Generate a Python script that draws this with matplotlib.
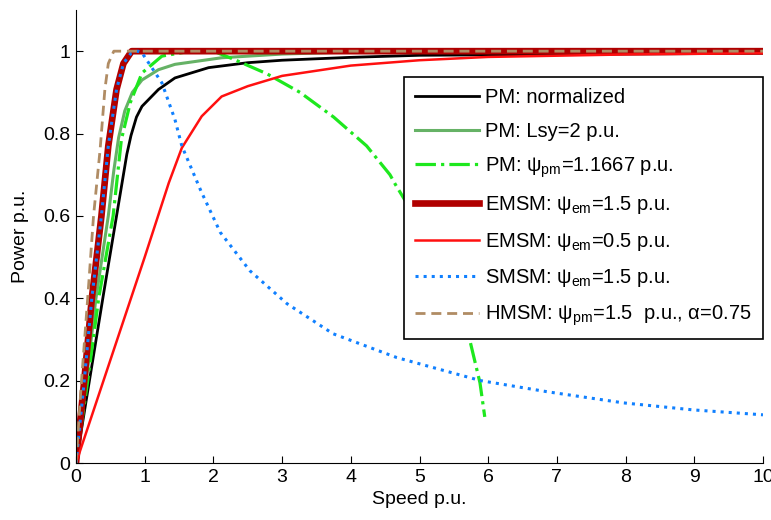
import matplotlib
matplotlib.use('Agg')
import matplotlib.pyplot as plt
import numpy as np

plt.rcParams['font.family'] = ['Liberation Sans', 'DejaVu Sans']
plt.rcParams['mathtext.fontset'] = 'custom'
plt.rcParams['mathtext.rm'] = 'Liberation Sans'
plt.rcParams['mathtext.it'] = 'Liberation Sans'
plt.rcParams['mathtext.default'] = 'regular'

# values (speed p.u., power p.u.)
pm_norm_x = [0, 0.2, 0.4, 0.6, 0.68, 0.74, 0.8, 0.88, 0.96, 1.2, 1.44, 1.93, 2.5, 3.0, 4.0, 5.0, 10]
pm_norm_y = [0, 0.205, 0.41, 0.61, 0.69, 0.75, 0.795, 0.84, 0.866, 0.907, 0.935, 0.96, 0.972, 0.978, 0.985, 0.99, 0.995]

pm_lsy_x = [0, 0.15, 0.29, 0.47, 0.55, 0.62, 0.71, 0.82, 0.96, 1.2, 1.44, 2.12, 3.0, 4.0, 10]
pm_lsy_y = [0, 0.2, 0.4, 0.6, 0.71, 0.79, 0.855, 0.9, 0.93, 0.955, 0.968, 0.984, 0.993, 0.998, 1.0]

pm_psi_x = [0, 0.17, 0.33, 0.54, 0.66, 0.79, 0.96, 1.25, 1.6, 2.0, 2.3, 2.78, 3.26, 3.75, 4.23,
            4.57, 4.65, 5.0, 5.3, 5.5, 5.73, 5.88, 5.95]
pm_psi_y = [0, 0.2, 0.4, 0.6, 0.785, 0.875, 0.947, 0.988, 0.998, 1.0, 0.98, 0.945, 0.9, 0.84, 0.77,
            0.70, 0.676, 0.58, 0.48, 0.40, 0.30, 0.195, 0.112]

emsm15_x = [0, 0.12, 0.23, 0.37, 0.47, 0.59, 0.69, 0.81, 10]
emsm15_y = [0, 0.2, 0.4, 0.6, 0.77, 0.907, 0.97, 1.0, 1.0]

emsm05_x = [0, 1.0, 1.35, 1.54, 1.83, 2.12, 2.5, 3.0, 4.0, 5.0, 6.0, 8.0, 10]
emsm05_y = [0, 0.5, 0.68, 0.765, 0.842, 0.89, 0.915, 0.94, 0.965, 0.978, 0.986, 0.992, 0.995]

smsm_x = [0, 0.12, 0.23, 0.37, 0.47, 0.59, 0.69, 0.8, 0.9, 0.96, 1.25, 1.44, 1.54, 1.82, 2.1,
          2.53, 3.07, 3.74, 4.67, 5.89, 6.86, 7.97, 8.98, 10]
smsm_y = [0, 0.2, 0.4, 0.6, 0.77, 0.907, 0.97, 0.995, 1.0, 0.996, 0.923, 0.834, 0.77, 0.66, 0.56,
          0.467, 0.387, 0.314, 0.256, 0.2, 0.173, 0.146, 0.129, 0.117]

hmsm_x = [0, 0.08, 0.17, 0.255, 0.35, 0.42, 0.47, 0.55, 10]
hmsm_y = [0, 0.2, 0.4, 0.6, 0.76, 0.907, 0.97, 1.0, 1.0]

labels = ['PM: normalized',
          'PM: Lsy=2 p.u.',
          r'PM: $\psi_{pm}$=1.1667 p.u.',
          r'EMSM: $\psi_{em}$=1.5 p.u.',
          r'EMSM: $\psi_{em}$=0.5 p.u.',
          r'SMSM: $\psi_{em}$=1.5 p.u.',
          r'HMSM: $\psi_{pm}$=1.5  p.u., $\alpha$=0.75']

fig = plt.figure(figsize=(7.71, 5.2), dpi=100)
ax = fig.add_axes([0.0986, 0.1096, 0.8910, 0.8712])

ax.plot(pm_norm_x, pm_norm_y, '-', color='black', lw=2.0, label=labels[0])
ax.plot(pm_lsy_x, pm_lsy_y, '-', color='#66b266', lw=2.2, label=labels[1])
ax.plot(pm_psi_x, pm_psi_y, '-.', color='#1ee81e', lw=2.3, label=labels[2])
ax.plot(emsm15_x, emsm15_y, '-', color='#b00000', lw=4.8, label=labels[3])
ax.plot(emsm05_x, emsm05_y, '-', color='#ff1010', lw=1.8, label=labels[4])
ax.plot(smsm_x, smsm_y, ':', color='#1080ff', lw=2.2, label=labels[5])
ax.plot(hmsm_x, hmsm_y, '--', color='#b08c64', lw=2.0, dashes=(3.6, 2.1), label=labels[6])

ax.set_xlim(0, 10)
ax.set_ylim(0, 1.1)
ax.set_xticks(np.arange(0, 11, 1))
ax.set_yticks([0, 0.2, 0.4, 0.6, 0.8, 1.0])
ax.set_yticklabels(['0', '0.2', '0.4', '0.6', '0.8', '1'])
ax.spines['top'].set_visible(False)
ax.spines['right'].set_visible(False)
ax.tick_params(direction='in', length=5, width=0.8, labelsize=14, pad=4)
ax.set_xlabel('Speed p.u.', fontsize=14, labelpad=4)
ax.set_ylabel('Power p.u.', fontsize=14, labelpad=10)

leg = ax.legend(loc='upper right', bbox_to_anchor=(1.0, 0.852), fontsize=14.5,
                frameon=True, fancybox=False, framealpha=1, edgecolor='black',
                handlelength=3.2, handletextpad=0.3, labelspacing=0.72,
                borderpad=0.55, borderaxespad=0)
leg.get_frame().set_linewidth(1.2)

fig.savefig('out.png', dpi=100)
